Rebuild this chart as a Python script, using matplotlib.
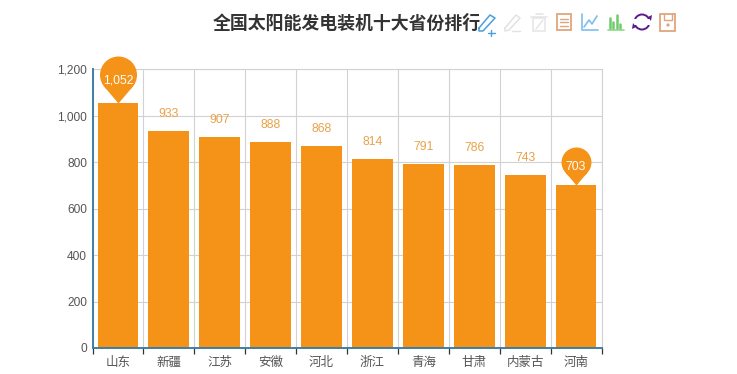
import matplotlib
matplotlib.use("Agg")
import matplotlib.pyplot as plt
from matplotlib.patches import Circle, Polygon, Rectangle
from matplotlib.path import Path
from matplotlib.ticker import FuncFormatter, MultipleLocator

provinces = ["山东", "新疆", "江苏", "安徽", "河北", "浙江", "青海", "甘肃", "内蒙古", "河南"]
capacity = [1052, 933, 907, 888, 868, 814, 791, 786, 743, 703]
pinned = ["山东", "河南"]

ORANGE = "#f59218"
LABEL = "#e9a24a"
GRID = "#d2d2d2"
AXIS_BLUE = "#3d7ea6"
TEXT = "#555555"
NUM_FONT = "Liberation Sans"
PIN_HEIGHT = {"山东": 47, "河南": 38}

W, H = 737, 374
plt.rcParams["font.family"] = ["Noto Sans CJK SC", "DejaVu Sans"]


def pin_marker():
    # tip sits at the origin so the marker lands on top of the bar
    r = 18.5
    cy = 28.5
    c = Path.unit_circle()
    verts = [(v[0] * r, v[1] * r + cy) for v in c.vertices]
    tri = [(-13.5, cy - 12.5), (0, 0), (13.5, cy - 12.5), (-13.5, cy - 12.5)]
    codes = list(c.codes) + [Path.MOVETO, Path.LINETO, Path.LINETO, Path.CLOSEPOLY]
    return Path(verts + tri, codes)


fig = plt.figure(figsize=(W / 100, H / 100), dpi=100)
left, right, top, bottom = 92.5, 601.5, 69, 348
ax = fig.add_axes([left / W, 1 - bottom / H, (right - left) / W, (bottom - top) / H])

x = list(range(len(provinces)))
ax.bar(x, capacity, width=0.8, color=ORANGE, zorder=3)
ax.set_xlim(-0.5, len(provinces) - 0.5)
ax.set_ylim(0, 1200)
ax.yaxis.set_major_locator(MultipleLocator(200))
ax.yaxis.set_major_formatter(FuncFormatter(lambda v, _: f"{int(v):,}"))

ax.set_xticks([i - 0.5 for i in range(len(provinces) + 1)], minor=True)
ax.set_xticks(x)
ax.set_xticklabels(provinces, fontsize=9, color=TEXT)
ax.tick_params(axis="x", which="major", length=0, pad=6)
ax.tick_params(axis="x", which="minor", length=4.5, width=0.9, color="#333333", direction="out")
ax.tick_params(axis="y", length=0, pad=4, labelsize=8.6, labelcolor=TEXT)
for lab in ax.get_yticklabels():
    lab.set_family(NUM_FONT)
ax.grid(True, which="major", axis="y", color=GRID, lw=0.8, zorder=1)
ax.grid(True, which="minor", axis="x", color=GRID, lw=0.8, zorder=1)

for side in ("top", "right"):
    ax.spines[side].set_color(GRID)
    ax.spines[side].set_linewidth(0.8)
for side in ("left", "bottom"):
    ax.spines[side].set_color(AXIS_BLUE)
    ax.spines[side].set_linewidth(1.4)
    ax.spines[side].set_zorder(5)

pin = pin_marker()
for i, (name, value) in enumerate(zip(provinces, capacity)):
    if name in pinned:
        h = PIN_HEIGHT[name]
        ax.scatter([i], [value], marker=pin, s=(h * 0.72 * 2) ** 2,
                   color=ORANGE, linewidths=0, zorder=6, clip_on=False)
        ax.annotate(f"{value:,}", (i, value), xytext=(0, (h * 0.5 - 4) * 0.72), textcoords="offset points",
                    ha="center", va="baseline", fontsize=8.8, color="white", zorder=7,
                    family=NUM_FONT)
    else:
        ax.annotate(f"{value:,}", (i, value), xytext=(0, 10), textcoords="offset points",
                    ha="center", va="baseline", fontsize=8.8, color=LABEL, zorder=7,
                    family=NUM_FONT)

fig.text(346.5 / W, 1 - 24 / H, "全国太阳能发电装机十大省份排行", ha="center", va="center",
         fontsize=12.9, fontweight="bold", color="#333333")

# the cut off watermark under the last labels cannot be read, so it is left out

# toolbar icons, in pixel coordinates of the picture
ov = fig.add_axes([0, 0, 1, 1], facecolor="none")
ov.set_xlim(0, W)
ov.set_ylim(H, 0)
ov.axis("off")


def line(xs, ys, color, lw=1.0):
    ov.plot(xs, ys, color=color, lw=lw, solid_capstyle="round")


# pencil plus
line([479, 490, 495, 483, 479, 479], [28, 15, 18, 31, 31, 28], "#4a9fe0", 1.1)
line([488, 495], [33, 33], "#4a9fe0")
line([491.5, 491.5], [30, 36], "#4a9fe0")
# pencil grey
line([505, 516, 520, 509, 505, 505], [28, 15, 18, 30, 31, 28], "#e2e2e2", 1.1)
line([512, 520], [31, 31], "#e2e2e2")
# bin grey
ov.add_patch(Rectangle((533, 18), 12, 13, fill=False, ec="#e4e4e4", lw=1.1))
line([531, 547], [17, 17], "#e4e4e4", 1.1)
line([536, 543], [14, 14], "#e4e4e4", 1.1)
line([536, 543], [29, 20], "#e4e4e4")
# data view
ov.add_patch(Rectangle((557.5, 14), 14, 16, fill=False, ec="#e0a57c", lw=1.3))
for yy in (18.5, 22, 25.5):
    line([560.5, 568.5], [yy, yy], "#e0a57c")
# line chart
line([582, 582, 598], [14, 30, 30], "#7fbdf0", 1.2)
line([584, 589, 592, 597], [27, 20, 24, 16], "#7fbdf0", 1.2)
# bar chart
line([608, 624], [30, 30], "#8ed98a", 1.2)
for xx, yy in zip((610, 613.5, 617, 620.5), (18, 22, 15, 24)):
    line([xx, xx], [28, yy], "#6fcb6a", 1.8)
# refresh
ov.add_patch(Circle((642, 22), 7.5, fill=False, ec="#5b1a8c", lw=1.4))
ov.add_patch(Rectangle((632, 18.5), 20, 6, fc="white", ec="none", zorder=3))
ov.add_patch(Polygon([[648, 17], [652, 15], [651, 21]], fc="#5b1a8c", ec="none", zorder=4))
ov.add_patch(Polygon([[636, 27], [632, 29], [633, 23]], fc="#5b1a8c", ec="none", zorder=4))
# save
ov.add_patch(Rectangle((660, 14), 15.5, 16.5, fill=False, ec="#e0a57c", lw=1.3))
line([664, 664, 672, 672], [14, 20, 20, 14], "#e0a57c")
ov.add_patch(Circle((668, 25), 1.6, fc="#e0a57c", ec="none"))

fig.savefig("out.png", dpi=100)
